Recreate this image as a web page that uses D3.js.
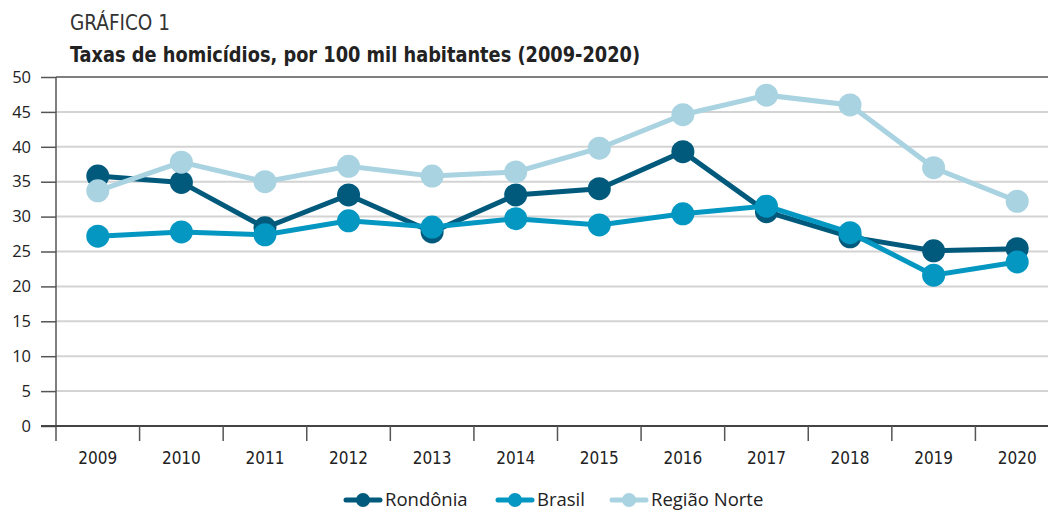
<!DOCTYPE html>
<html><head><meta charset="utf-8">
<script src="https://cdn.jsdelivr.net/npm/d3@7"></script>
<style>body{margin:0;background:#fff}svg{display:block}</style>
</head><body><svg id="c" width="1048" height="511"></svg>
<script>
const years = ["2009","2010","2011","2012","2013","2014","2015","2016","2017","2018","2019","2020"];
const rondonia = [35.8,34.9,28.4,33.1,27.8,33.1,34.0,39.3,30.7,27.1,25.1,25.4];
const brasil = [27.2,27.8,27.4,29.4,28.5,29.7,28.8,30.4,31.5,27.7,21.6,23.5];
const norte = [33.7,37.8,35.0,37.2,35.8,36.4,39.8,44.6,47.4,46.0,37.0,32.2];
const yTicks = [0,5,10,15,20,25,30,35,40,45,50];
const seriesNames = ["Rondônia","Brasil","Região Norte"];
const colors = ["#015a7c","#0497c2","#a9d3e1"];

const svg = d3.select("#c");
const x = d3.scaleBand().domain(years).range([56,1059]);
const y = d3.scaleLinear().domain([0,50]).range([426,77]);
const font = "'Open Sans','Noto Sans',sans-serif";
const cond = "'DejaVu Sans Condensed','DejaVu Sans',sans-serif";

svg.append("text").attr("x",70).attr("y",30).attr("font-family",cond).attr("font-size",21)
  .attr("fill","#333").attr("font-weight",300).attr("textLength",100).attr("lengthAdjust","spacingAndGlyphs").text("GRÁFICO 1");
svg.append("text").attr("x",70).attr("y",62).attr("font-family",cond).attr("font-size",21)
  .attr("font-weight","bold").attr("fill","#222").attr("textLength",570).attr("lengthAdjust","spacingAndGlyphs")
  .text("Taxas de homicídios, por 100 mil habitantes (2009-2020)");

// gridlines
svg.append("g").selectAll("line").data(yTicks.filter(d=>d>0)).join("line")
  .attr("x1",56).attr("x2",1048).attr("y1",d=>y(d)).attr("y2",d=>y(d))
  .attr("stroke",d=>d===50?"#555":"#d3d3d3").attr("stroke-width",d=>d===50?1.5:2);

// y axis
const ya = svg.append("g").attr("transform","translate(56,0)")
  .call(d3.axisLeft(y).tickValues(yTicks).tickSize(15).tickPadding(10));
ya.select(".domain").remove();
ya.selectAll(".tick line").attr("stroke","#555").attr("stroke-width",1.5);
ya.selectAll("text").attr("font-family",font).attr("font-size",16.5).attr("fill","#222");
svg.append("line").attr("x1",56).attr("x2",56).attr("y1",77).attr("y2",441).attr("stroke","#555").attr("stroke-width",1.5);

// x axis
svg.append("line").attr("x1",41).attr("x2",1048).attr("y1",426).attr("y2",426).attr("stroke","#444").attr("stroke-width",2);
svg.append("g").selectAll("line").data(years.slice(1)).join("line")
  .attr("x1",d=>x(d)).attr("x2",d=>x(d)).attr("y1",426).attr("y2",441).attr("stroke","#555").attr("stroke-width",1.5);
svg.append("g").selectAll("text").data(years).join("text")
  .attr("x",d=>x(d)+x.bandwidth()/2).attr("y",464).attr("text-anchor","middle")
  .attr("font-family",cond).attr("font-size",17).attr("fill","#222").text(d=>d);

// series
const data = [rondonia,brasil,norte];
const line = d3.line().x((d,i)=>x(years[i])+x.bandwidth()/2).y(d=>y(d));
data.forEach((vals,k)=>{
  const g = svg.append("g");
  g.append("path").attr("d",line(vals)).attr("fill","none").attr("stroke",colors[k]).attr("stroke-width",5);
  g.selectAll("circle").data(vals).join("circle")
    .attr("cx",(d,i)=>x(years[i])+x.bandwidth()/2).attr("cy",d=>y(d)).attr("r",11.5).attr("fill",colors[k]);
});

// legend
const legX = [346,498,612];
seriesNames.forEach((n,k)=>{
  const g = svg.append("g").attr("transform",`translate(${legX[k]},500)`);
  g.append("line").attr("x1",0).attr("x2",34).attr("stroke",colors[k]).attr("stroke-width",5).attr("stroke-linecap","round");
  g.append("circle").attr("cx",17).attr("r",7).attr("fill",colors[k]);
  g.append("text").attr("x",39).attr("y",6).attr("font-family",font).attr("font-size",18.5).attr("fill","#222").text(n);
});
</script></body></html>
